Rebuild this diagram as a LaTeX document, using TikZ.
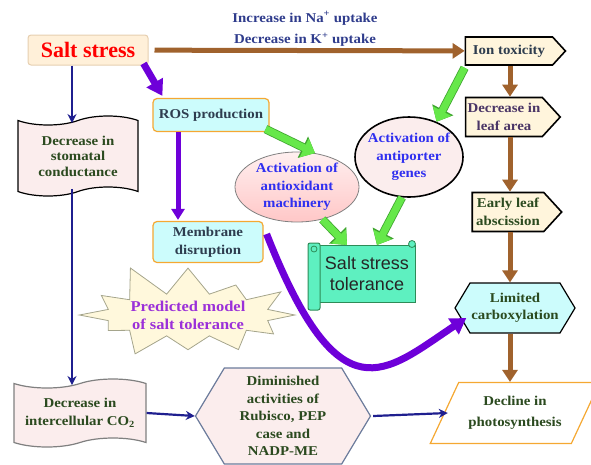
\documentclass[tikz,border=0pt]{standalone}
\usepackage{fontspec}
\setmainfont{Liberation Serif}
\newfontfamily\bodyfont{Liberation Serif}[FakeStretch=1.1]
\newfontfamily\tolfont{Liberation Sans}
\usetikzlibrary{shapes.geometric,shapes.symbols,shapes.misc,arrows.meta}

\definecolor{brownarr}{HTML}{A0622D}
\definecolor{navyarr}{HTML}{1F1F8F}
\definecolor{purplearr}{HTML}{6E00D9}
\definecolor{greenarr}{HTML}{66E84A}
\definecolor{greenedge}{HTML}{3FA52F}
\definecolor{cyanfill}{HTML}{CCFCFC}
\definecolor{orangeedge}{HTML}{F5A832}
\definecolor{creamfill}{HTML}{FFF5DC}
\definecolor{saltfill}{HTML}{FFF0D9}
\definecolor{saltedge}{HTML}{E6CFB0}
\definecolor{pinkfill}{HTML}{FBEDED}
\definecolor{tolfill}{HTML}{5EF0C0}
\definecolor{toledge}{HTML}{2E8B57}
\definecolor{starfill}{HTML}{FFF8DC}
\definecolor{staredge}{HTML}{A5A58C}
\definecolor{startxt}{HTML}{9B30D9}
\definecolor{darkgreen}{HTML}{2B4A1F}
\definecolor{bluetxt}{HTML}{3030F0}
\definecolor{slateedge}{HTML}{6B7B9B}
\definecolor{labeltxt}{HTML}{2F3C8C}
\definecolor{leaftxt}{HTML}{4A3566}
\definecolor{rostxt}{HTML}{2E3D4F}

\tikzset{
  txt/.style={font=\bodyfont\bfseries\fontsize{13.5}{17.5}\selectfont, align=center, inner sep=1pt},
  saltbox/.style={draw=saltedge, fill=saltfill, rounded corners=3pt, line width=1pt,
    minimum width=120pt, minimum height=30pt, text=red,
    font=\bfseries\fontsize{22}{24}\selectfont},
  signbox/.style={txt, signal, signal to=east, signal pointer angle=95, draw=black,
    line width=1.6pt, fill=creamfill},
  hexbox/.style={txt, signal, signal to=east and west, signal pointer angle=118, line width=1.2pt},
  rosbox/.style={txt, draw=orangeedge, fill=cyanfill, rounded corners=4pt, line width=1.2pt, text=rostxt},
  ovalbox/.style={txt, ellipse, inner sep=0pt, text=bluetxt},
  tapebox/.style={txt, tape, tape bend height=9pt, fill=pinkfill, line width=1.2pt, text=darkgreen},
  brownarrow/.style={draw=brownarr, line width=5pt, -{Triangle[length=12pt,width=15pt]}},
  navyarrow/.style={draw=navyarr, line width=2.2pt, -{Stealth[length=9pt,width=9pt]}},
  purplearrow/.style={draw=purplearr, line width=#1, -{Triangle[length=2.2*#1,width=2.6*#1]}},
  greenarrow/.style={draw=greenarr, line width=7pt, -{Triangle[length=12pt,width=20pt]},
    preaction={draw=greenedge, line width=8.6pt, -{Triangle[length=13.5pt,width=23pt]}}},
}

\begin{document}
\begin{tikzpicture}[x=1pt,y=-1pt]
\useasboundingbox (0,0) rectangle (591,464);
\coordinate (spine) at (510,0);

% main chain on the right
\node[saltbox] (salt) at (88,50) {Salt stress};
\node[txt, text=labeltxt] (uptake) at (305,29) {Increase in Na\textsuperscript{+} uptake\\[4pt]Decrease in K\textsuperscript{+} uptake};
\node[signbox, minimum width=100pt, minimum height=28pt, text=rostxt] (ion) at (509,51) {Ion toxicity};
\node[signbox, minimum width=85pt, minimum height=39pt, inner xsep=2pt, text=leaftxt] (leaf) at (504,117) {Decrease in\\leaf area};
\node[signbox, minimum width=86pt, minimum height=39pt, inner xsep=4pt, text=darkgreen] (abs) at (508,212) {Early leaf\\abscission};
\node[hexbox, fill=cyanfill, draw=black, minimum width=120pt, minimum height=50pt, text=darkgreen] (limited) at (515,308) {Limited\\carboxylation};
\node[txt, trapezium, trapezium left angle=65, trapezium right angle=115, draw=orangeedge,
  line width=1.2pt, fill=white, minimum width=150pt, minimum height=61pt, inner xsep=-14pt,
  text=darkgreen, font=\bodyfont\bfseries\fontsize{13.5}{21}\selectfont] (photo) at (515,413) {Decline in\\photosynthesis};

% middle part
\node[rosbox, minimum width=116pt, minimum height=33pt] (ros) at (211,115) {ROS production};
\node[rosbox, minimum width=110pt, minimum height=41pt] (mem) at (208,242) {Membrane\\disruption};
\node[ovalbox, draw=gray, line width=0.8pt, top color=red!6, bottom color=red!22,
  minimum width=124pt, minimum height=70pt, inner xsep=-6pt] (antiox) at (297,187) {Activation of\\antioxidant\\machinery};
\node[ovalbox, draw=black, line width=1.6pt, fill=pinkfill,
  minimum width=108pt, minimum height=80pt, inner xsep=-10pt, inner ysep=-4pt] (antip) at (409,157) {Activation of\\antiporter\\genes};
\node[draw=toledge, fill=tolfill, line width=1pt, minimum width=97pt, minimum height=57pt, align=center,
  font=\tolfont\fontsize{18}{21}\selectfont, text=black!85] (tol) at (367,274) {Salt stress\\tolerance};
\node[txt, starburst, starburst points=12, starburst point height=34pt, random starburst=11,
  draw=staredge, fill=starfill, line width=0.8pt, text=startxt, minimum width=205pt, minimum height=86pt,
  font=\bodyfont\bfseries\fontsize{15}{18}\selectfont] (star) at (188,315) {Predicted model\\of salt tolerance};

% left column
\node[tapebox, draw=black, minimum width=120pt, minimum height=80pt,
  font=\bodyfont\bfseries\fontsize{13.5}{15.5}\selectfont] (stom) at (78,156) {Decrease in\\stomatal\\conductance};
\node[tapebox, draw=gray, minimum width=132pt, minimum height=68pt] (co2) at (80,413) {Decrease in\\intercellular CO\textsubscript{2}};
\node[hexbox, fill=pinkfill, draw=slateedge, minimum width=175pt, minimum height=96pt, text=darkgreen] (dim) at (283,416) {Diminished\\activities of\\Rubisco, PEP\\case and\\NADP-ME};

% scroll rolls of the tolerance box
\draw[draw=toledge, fill=tolfill, line width=1pt, rounded corners=2pt]
  ([xshift=-10pt,yshift=2pt]tol.north west) rectangle ([xshift=2pt,yshift=-7pt]tol.south west);
\draw[draw=toledge, fill=tolfill, line width=0.8pt] ([xshift=-4pt,yshift=-4pt]tol.north west) circle (3);
\draw[draw=toledge, fill=tolfill, line width=0.8pt] ([xshift=-4pt,yshift=1pt]tol.north east) circle (3.5);

% connectors
\draw[brownarrow, shorten <=6pt] (salt) -- (ion);
\draw[brownarrow] (ion.south -| spine) -- (leaf.north -| spine);
\draw[brownarrow] (leaf.south -| spine) -- (abs.north -| spine);
\draw[brownarrow] (abs.south -| spine) -- (limited.north -| spine);
\draw[brownarrow] (limited.south -| spine) -- (photo.north -| spine);

\draw[purplearrow=7pt] ([xshift=-5pt,yshift=2pt]salt.south east) -- ([xshift=10pt,yshift=2pt]ros.north west);
\draw[purplearrow=5pt] ([xshift=-33pt]ros.south) -- ([xshift=-30pt,yshift=1pt]mem.north);
\draw[purplearrow=7pt] ([xshift=3pt,yshift=8pt]mem.east) .. controls (340,420) and (385,372) .. ([xshift=12pt,yshift=-10pt]limited.west);

\draw[greenarrow] ([xshift=-4pt,yshift=3pt]ros.south east) -- (antiox.62);
\draw[greenarrow] ([xshift=0pt,yshift=-2pt]ion.south west) -- (antip.52);
\draw[greenarrow] (antiox.-52) -- ([xshift=-20pt]tol.north);
\draw[greenarrow] (antip.-100) -- ([xshift=10pt]tol.north);

\draw[navyarrow] ([xshift=-16pt]salt.south) -- ([xshift=-6pt,yshift=-3pt]stom.north);
\draw[navyarrow] ([xshift=-6pt,yshift=3pt]stom.south) -- ([xshift=-8pt,yshift=-2pt]co2.north);
\draw[navyarrow] (co2.east) -- (dim.west);
\draw[navyarrow] ([xshift=2pt]dim.east) -- ([xshift=4pt]photo.west);
\end{tikzpicture}
\end{document}
